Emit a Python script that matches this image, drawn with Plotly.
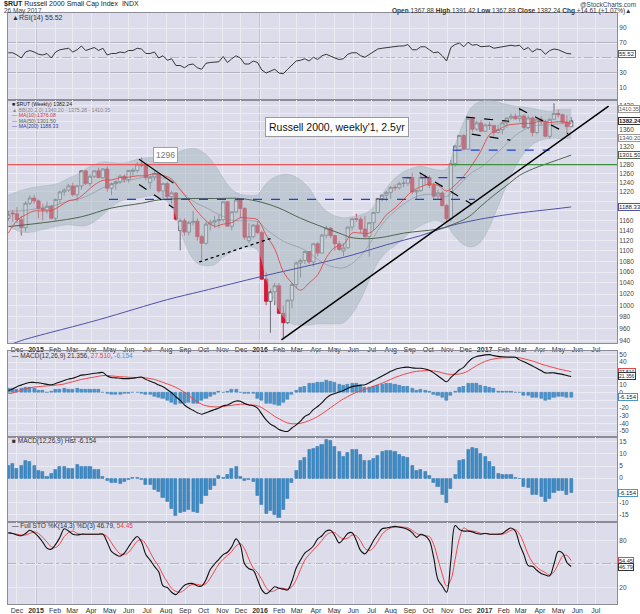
import math
import pandas as pd
import plotly.graph_objects as go

# ---------------------------------------------------------------- data
week_start = "2014-11-17"
n_weeks = 132
weeks = pd.date_range(week_start, periods=n_weeks, freq="7D")

open_px = [1165,1176,1174,1162,1146,1196,1207,1201,1185,1182,
           1190,1165,1204,1220,1224,1233,1214,1233,1266,1238,
           1254,1266,1251,1270,1228,1238,1242,1254,1247,1265,
           1267,1281,1278,1240,1252,1260,1222,1238,1210,1218,
           1140,1160,1137,1156,1159,1128,1115,1153,1157,1160,
           1162,1199,1149,1178,1203,1185,1120,1128,1151,1136,
           1047,1007,1024,1035,986,970,1009,1037,1077,1082,
           1099,1079,1114,1096,1131,1145,1130,1114,1100,1106,
           1147,1164,1163,1143,1128,1156,1177,1206,1213,1219,
           1230,1229,1238,1239,1251,1220,1223,1252,1251,1234,
           1211,1218,1191,1164,1282,1322,1347,1315,1388,1362,
           1377,1357,1372,1371,1354,1361,1377,1389,1393,1387,
           1394,1366,1389,1354,1386,1380,1345,1386,1400,1397,
           1379,1367.88]
high_px = [1180,1182,1188,1170,1200,1213,1214,1204,1195,1200,
           1193,1206,1222,1228,1237,1240,1235,1267,1268,1258,
           1267,1273,1272,1276,1240,1246,1258,1258,1268,1272,
           1285,1296,1280,1256,1266,1262,1240,1242,1222,1220,
           1165,1165,1160,1180,1165,1132,1158,1162,1170,1172,
           1200,1200,1180,1205,1206,1188,1155,1153,1160,1140,
           1060,1030,1040,1040,1000,1010,1040,1080,1085,1100,
           1100,1115,1117,1133,1150,1147,1132,1120,1115,1148,
           1165,1174,1168,1170,1157,1178,1207,1215,1222,1232,
           1236,1242,1248,1254,1262,1225,1263,1258,1256,1240,
           1225,1222,1195,1290,1325,1348,1350,1388,1392,1382,
           1384,1375,1380,1372,1373,1380,1390,1400,1400,1414,
           1398,1395,1392,1390,1393,1385,1388,1425,1410,1400,
           1395,1391.42]
low_px = [1160,1158,1155,1130,1138,1192,1195,1165,1160,1175,
          1162,1160,1195,1212,1220,1210,1200,1225,1235,1232,
          1250,1250,1248,1220,1213,1225,1237,1240,1240,1255,
          1262,1274,1245,1226,1245,1218,1205,1205,1195,1160,
          1101,1130,1130,1150,1120,1083,1112,1140,1145,1145,
          1158,1148,1140,1175,1165,1122,1115,1125,1133,1046,
          1000,953,1000,985,943,968,995,1030,1050,1075,
          1075,1070,1090,1095,1125,1125,1100,1100,1090,1105,
          1140,1158,1135,1125,1089,1140,1175,1200,1200,1205,
          1222,1225,1230,1233,1215,1205,1220,1235,1228,1205,
          1205,1190,1156,1158,1275,1320,1312,1313,1355,1358,
          1355,1355,1360,1345,1352,1350,1365,1385,1385,1380,
          1362,1362,1345,1350,1370,1343,1340,1384,1390,1375,
          1348,1367.88]
close_px = [1172,1174,1162,1146,1196,1207,1201,1185,1182,1190,
            1165,1204,1220,1224,1233,1214,1233,1266,1238,1254,
            1266,1251,1270,1228,1238,1242,1254,1247,1267,1267,
            1281,1278,1251,1252,1260,1222,1238,1210,1218,1163,
            1160,1137,1156,1159,1128,1115,1153,1157,1160,1162,
            1199,1149,1178,1203,1185,1127,1128,1151,1136,1047,
            1007,1024,1035,986,970,1009,1037,1077,1082,1099,
            1079,1114,1096,1131,1145,1130,1114,1103,1106,1147,
            1164,1163,1143,1128,1156,1177,1206,1213,1219,1230,
            1229,1238,1239,1251,1220,1223,1252,1251,1234,1211,
            1218,1191,1164,1282,1322,1347,1315,1388,1362,1377,
            1357,1372,1371,1354,1361,1377,1389,1393,1387,1394,
            1366,1389,1354,1386,1380,1345,1386,1400,1397,1379,
            1368,1382.24]

rsi14 = [57,57,54,50,58,60,58,55,54,56,
         50,58,61,62,63,58,61,66,60,62,
         64,60,63,54,56,56,58,57,60,60,
         63,62,56,56,58,50,53,47,49,40,
         40,37,41,42,37,35,43,44,45,45,
         52,44,49,53,50,42,42,46,44,34,
         30,33,35,30,29,35,40,46,47,49,
         46,51,48,53,55,52,50,48,49,55,
         57,57,53,51,55,58,62,63,64,65,
         65,66,66,68,61,61,65,65,61,57,
         58,53,46,64,68,70,65,71,67,68,
         65,66,66,63,64,65,67,67,66,67,
         61,64,58,62,61,55,60,62,61,58,
         56,55.52]

macd_line = [3,5,8,10,12,13.5,13.5,13,12,11,
             10.5,12,14,16,18,19,21,23,23.5,24.5,
             25.5,26,26.5,22,20,19.5,19,18.5,18.5,19,
             20,20.5,17.5,15,13,10,7.8,4,0,-5.2,
             -10,-16,-20,-23,-26,-28,-26,-24,-22,-20,
             -17,-16,-13,-10.8,-11,-14,-16,-17,-20,-28,
             -35.5,-41,-44,-48,-50,-50.5,-46,-42,-37,-31,
             -28,-22,-18,-13,-7,-3,-1,1,3,6,
             8,9,10,10.5,13,16,19,22,25,28,
             30.5,32,33,33.5,32.5,32,32,31,29.5,26,
             22,18,14.3,20,25,30,33.5,40,45,47.5,
             48.5,49.5,49.8,48.5,47.5,47,46.8,46.8,46.5,43,
             40.5,38,35,32,29,26,26,26,25,24,
             22.5,21.356]
macd_signal = [-1,-0.3,1.5,3.5,5,6.5,7.5,8,8.5,9,
               9.5,10,10.5,11.5,13,14.5,16,17.5,18.5,19.5,
               20.5,21.5,22.5,22.5,22,21.5,21,20.8,20.3,20,
               19.8,19.8,19.5,18.5,17.5,15.5,13.5,11.5,9.5,7,
               4,0.5,-3.5,-8,-12,-15,-17,-18,-18.5,-18.5,
               -18,-17,-16.5,-15.5,-15,-15,-15.5,-16,-17,-19.5,
               -23,-27,-31,-34,-37,-39.5,-40.5,-40.5,-40,-38.5,
               -36.5,-34,-31,-27.5,-23.5,-19.5,-15.5,-11.5,-8,-5,
               -2,0.5,2.5,4.5,6.5,8.5,10.5,12.5,15,17.5,
               20,22,24,25.5,27,28,28.5,28.8,29,28.5,
               27.5,26,24.5,24,24,24.5,26,28.5,32,35.5,
               38.5,41,43,44.2,45.2,45.6,45.8,46,46.2,45.8,
               44.5,43,41.5,39.5,37.5,35.8,34.3,32.7,31.2,30,
               28.8,27.51]
macd_hist = [5.3,6.0,4.0,5.3,7.4,6.7,5.3,3.3,2.6,0.8,
             1.9,3.6,4.6,4.9,4.0,4.0,5.7,4.6,4.6,4.6,
             3.6,3.6,0.5,-1.1,-1.9,-1.9,-2.2,-1.5,-0.8,0.3,
             0.3,-0.8,-2.5,-2.5,-4.9,-5.6,-7.9,-9.7,-12.4,-15.4,
             -14.2,-13.8,-13.1,-13.8,-14.2,-10.4,-7.0,-4.9,-2.9,1.2,
             0.4,1.6,4.0,4.6,0.8,-1.1,-0.8,-1.5,-7.0,-10.7,
             -14.5,-13.4,-15.2,-16.1,-13.1,-8.3,-1.9,3.0,7.4,8.5,
             11.7,12.0,13.0,13.9,15.8,15.3,13.1,10.8,9.0,10.4,
             11.7,11.7,9.8,7.4,7.1,8.0,9.4,10.8,11.5,11.5,
             10.8,9.8,8.7,8.5,5.3,3.3,3.6,2.6,1.2,-1.9,
             -3.6,-6.6,-10.1,-4.2,1.6,7.1,7.7,11.7,12.6,12.3,
             10.1,8.7,7.0,4.9,1.9,1.6,1.6,1.6,0.3,-0.3,
             -3.3,-3.8,-6.6,-6.6,-7.7,-9.7,-8.3,-6.0,-5.2,-5.2,
             -6.6,-6.154]

sto_k = [90,89,87,86,89,93,90,85,78,70,
         69,75,84,95,92,88,87,88,88,88,
         88,88,88,78,66,62,60,64,72,80,
         85,78,62,55,47,40,22,20,14,11,
         17,23,25,25,22,22,30,43,50,56,
         62,65,72,82,74,50,44,42,30,17,
         12,16,21,19,18,17,28,45,55,64,
         68,73,82,86,92,93,86,77,82,89,
         90,80,67,63,70,80,88,95,96,97,
         98,97,96,94,90,84,88,86,80,58,
         30,22,14,55,99,94,92,92,91,89,
         88,89,88,88,88,89,93,96,92,75,
         62,48,47,42,38,36,35,50,66,64,
         52,46.79]
sto_d = [89,89,88,87,87,89,91,89,84,78,
         72,71,76,85,90,92,89,88,88,88,
         88,88,88,85,77,69,63,62,65,72,
         79,81,75,65,55,47,36,27,19,15,
         14,17,22,24,24,23,25,32,41,50,
         56,61,66,73,76,69,56,45,39,30,
         20,15,16,19,19,18,21,30,43,55,
         62,68,74,80,87,90,90,85,82,83,
         87,86,79,70,67,71,79,88,93,96,
         97,97,97,96,93,89,87,86,85,75,
         56,37,22,30,56,83,96,93,92,91,
         89,89,88,88,88,88,90,93,94,88,
         76,62,52,46,42,39,36,40,50,60,
         61,54.45]

# bands / averages read every second week (plus the last week)
band_weeks = list(range(0, 131, 2)) + [131]
bb_upper = [1213,1220,1226,1230,1233,1235,1240,1250,1258,1270,
            1280,1286,1285,1283,1286,1292,1295,1296,1296,1300,
            1310,1316,1315,1303,1280,1250,1225,1215,1212,1214,
            1238,1252,1258,1256,1246,1228,1200,1180,1170,1166,
            1168,1172,1180,1202,1228,1250,1264,1272,1276,1272,
            1268,1270,1325,1380,1418,1430,1433,1428,1422,1418,
            1416,1412,1408,1405,1410,1410,1410.35]
bb_lower = [1150,1140,1136,1138,1142,1146,1150,1152,1150,1150,
            1158,1172,1188,1200,1205,1207,1210,1212,1205,1190,
            1140,1098,1076,1072,1074,1088,1098,1106,1108,1102,
            1048,1008,980,968,966,966,968,968,968,970,
            985,1010,1045,1078,1098,1110,1125,1140,1150,1158,
            1160,1150,1128,1112,1108,1118,1148,1190,1235,1275,
            1305,1326,1336,1340,1340,1340,1340.20]
bb_mid = [1180,1180,1181,1184,1187,1190,1195,1201,1204,1210,
          1219,1229,1236,1241,1245,1249,1252,1254,1250,1245,
          1225,1207,1195,1187,1177,1169,1161,1160,1160,1158,
          1143,1130,1119,1112,1106,1097,1084,1074,1069,1068,
          1076,1091,1112,1140,1163,1180,1194,1206,1213,1215,
          1214,1210,1226,1246,1263,1274,1290,1309,1328,1347,
          1360,1369,1372,1372,1375,1375,1375.28]
ma10 = [1135,1160,1172,1180,1180,1181,1190,1201,1205,1219,
        1235,1245,1246,1251,1252,1255,1255,1260,1256,1248,
        1225,1202,1179,1160,1149,1153,1156,1166,1165,1162,
        1131,1104,1061,1040,1027,1040,1055,1087,1107,1112,
        1135,1135,1135,1149,1172,1186,1204,1222,1231,1237,
        1234,1222,1235,1254,1280,1311,1349,1360,1371,1374,
        1376,1376,1382,1378,1380,1378,1376.08]

ma50_weeks = [0,10,17,24,31,35,42,48,54,59,63,68,72,77,80,84,88,92,96,100,
              103,107,110,113,116,119,122,125,128,131]
ma50 = [1148,1158,1168,1186,1196,1203,1206,1206,1206,1198,1186,1165,1151,1135,
        1126,1124,1128,1135,1139,1143,1151,1167,1190,1213,1234,1256,1270,1281,
        1291,1301.5]
ma200_weeks = [0,3,21,37,45,59,72,80,88,96,103,111,119,127,131]
ma200 = [932,940,975,1010,1025,1052,1076,1092,1112,1130,1150,1165,1176,1184,1188.33]

# hand-drawn annotations (dates, price levels)
level_line = 1280
level_break = "2016-11-07"
trend_long = (["2016-02-05", "2017-07-22"], [941, 1418])
trend_2015_top = (["2015-06-18", "2015-08-13"], [1292, 1239])
trend_2015_low = (["2015-06-18", "2015-08-13"], [1236, 1186])
trend_2015_rise = (["2015-09-24", "2016-01-20"], [1079, 1125])
trend_2016_fall = (["2016-09-17", "2016-12-11"], [1262, 1194])
flag_top = (["2016-12-02", "2017-02-10"], [1391, 1381])
flag_bottom = (["2016-12-11", "2017-02-12"], [1350, 1336])
trend_2017_fall = (["2017-02-26", "2017-05-17"], [1412, 1351])
support_1204 = (["2015-04-30", "2016-12-16"], [1204, 1204])
support_1251 = (["2016-08-20", "2016-12-11"], [1251, 1251])
support_1313 = (["2016-11-10", "2017-04-17"], [1313, 1313])

month_starts = pd.date_range("2014-12-01", periods=32, freq="MS")
month_labels = ["Dec", "2015", "Feb", "Mar", "Apr", "May", "Jun", "Jul", "Aug", "Sep",
                "Oct", "Nov", "Dec", "2016", "Feb", "Mar", "Apr", "May", "Jun", "Jul",
                "Aug", "Sep", "Oct", "Nov", "Dec", "2017", "Feb", "Mar", "Apr", "May",
                "Jun", "Jul"]
price_ticks = list(range(940, 1421, 20))
price_hidden = [1400, 1380, 1340, 1300, 1200, 1180]

# ---------------------------------------------------------------- style
BG = "#dcdcea"
GRID = "#ebebf4"
FRAME = "#8c8c98"
FONT = "Liberation Sans"
band_dates = weeks[band_weeks]

fig = go.Figure()

# RSI
fig.add_trace(go.Scatter(x=weeks, y=rsi14, mode="lines", line=dict(color="#222", width=0.9),
                         xaxis="x", yaxis="y"))

# Bollinger band
fig.add_trace(go.Scatter(x=band_dates, y=bb_lower, mode="lines", line=dict(color="rgba(150,165,175,0.7)", width=0.5, shape="spline"),
                         xaxis="x2", yaxis="y2"))
fig.add_trace(go.Scatter(x=band_dates, y=bb_upper, mode="lines", fill="tonexty",
                         fillcolor="rgba(170,186,192,0.55)",
                         line=dict(color="rgba(150,165,175,0.7)", width=0.5, shape="spline"),
                         xaxis="x2", yaxis="y2"))
fig.add_trace(go.Scatter(x=band_dates, y=bb_mid, mode="lines", line=dict(color="rgba(130,140,150,0.8)", width=0.7, shape="spline"),
                         xaxis="x2", yaxis="y2"))
fig.add_trace(go.Scatter(x=weeks[ma200_weeks], y=ma200, mode="lines", line=dict(color="#5050a8", width=1, shape="spline"),
                         xaxis="x2", yaxis="y2"))
fig.add_trace(go.Scatter(x=weeks[ma50_weeks], y=ma50, mode="lines", line=dict(color="#4f6650", width=1, shape="spline"),
                         xaxis="x2", yaxis="y2"))
fig.add_trace(go.Scatter(x=band_dates, y=ma10, mode="lines", line=dict(color="#e04848", width=0.9, shape="spline"),
                         xaxis="x2", yaxis="y2"))

# level line: red before the breakout, green after
fig.add_trace(go.Scatter(x=[weeks[0] - pd.Timedelta(days=3), level_break], y=[level_line, level_line], mode="lines",
                         line=dict(color="#e8585a", width=1.2), xaxis="x2", yaxis="y2"))
fig.add_trace(go.Scatter(x=[level_break, "2017-08-05"], y=[level_line, level_line], mode="lines",
                         line=dict(color="#3f8f3f", width=1.2), xaxis="x2", yaxis="y2"))

for seg in [support_1204, support_1251, support_1313]:
    fig.add_trace(go.Scatter(x=seg[0], y=seg[1], mode="lines", line=dict(color="#1f3fe0", width=1.3, dash="dash"),
                             xaxis="x2", yaxis="y2"))

# candles
fig.add_trace(go.Candlestick(x=weeks, open=open_px, high=high_px, low=low_px, close=close_px,
                             increasing=dict(line=dict(color="#505058", width=0.8), fillcolor="#f2f2f8"),
                             decreasing=dict(line=dict(color="#d01030", width=0.8), fillcolor="#e0142e"),
                             whiskerwidth=0, xaxis="x2", yaxis="y2"))

fig.add_trace(go.Scatter(x=trend_long[0], y=trend_long[1], mode="lines", line=dict(color="#000", width=1.5),
                         xaxis="x2", yaxis="y2"))
fig.add_trace(go.Scatter(x=trend_2015_top[0], y=trend_2015_top[1], mode="lines", line=dict(color="#000", width=1.2),
                         xaxis="x2", yaxis="y2"))
for seg in [trend_2015_low, trend_2016_fall, flag_top, flag_bottom, trend_2017_fall]:
    fig.add_trace(go.Scatter(x=seg[0], y=seg[1], mode="lines", line=dict(color="#000", width=1.2, dash="dash"),
                             xaxis="x2", yaxis="y2"))
fig.add_trace(go.Scatter(x=trend_2015_rise[0], y=trend_2015_rise[1], mode="lines",
                         line=dict(color="#000", width=1.3, dash="dot"), xaxis="x2", yaxis="y2"))

# MACD panel
bar_w = 5 * 24 * 3600 * 1000
fig.add_trace(go.Bar(x=weeks, y=macd_hist, width=bar_w, marker=dict(color="#4b95cc", line=dict(color="#2a6ea6", width=0.4)),
                     xaxis="x3", yaxis="y3"))
fig.add_trace(go.Scatter(x=weeks, y=macd_signal, mode="lines", line=dict(color="#f04848", width=1, shape="spline"),
                         xaxis="x3", yaxis="y3"))
fig.add_trace(go.Scatter(x=weeks, y=macd_line, mode="lines", line=dict(color="#111", width=1.1, shape="spline"),
                         xaxis="x3", yaxis="y3"))
# Histogram panel
fig.add_trace(go.Bar(x=weeks, y=macd_hist, width=bar_w, marker=dict(color="#3d8cc6", line=dict(color="#2566a0", width=0.4)),
                     xaxis="x4", yaxis="y4"))
# Stochastics
fig.add_trace(go.Scatter(x=weeks, y=sto_d, mode="lines", line=dict(color="#f04848", width=1, shape="spline"),
                         xaxis="x5", yaxis="y5"))
fig.add_trace(go.Scatter(x=weeks, y=sto_k, mode="lines", line=dict(color="#111", width=1.1, shape="spline"),
                         xaxis="x5", yaxis="y5"))

# ---------------------------------------------------------------- layout
tick_text = ["<b>%s</b>" % m if m.isdigit() else m for m in month_labels]
xbase = dict(type="date", range=["2014-11-16 10:00", "2017-08-04 16:00"], tickmode="array",
             tickvals=month_starts, ticktext=tick_text, showgrid=True, gridcolor=GRID, gridwidth=1,
             ticks="", showline=True, mirror=True, linecolor=FRAME, linewidth=1, zeroline=False,
             tickfont=dict(size=7, color="#333", family=FONT), fixedrange=True)
ybase = dict(side="right", showgrid=True, gridcolor=GRID, gridwidth=1, ticks="", showline=True, mirror=True,
             linecolor=FRAME, linewidth=1, zeroline=False, tickfont=dict(size=6.5, color="#444", family=FONT),
             fixedrange=True, automargin=False)

dom = {"y": [0.8528, 1.0], "y2": [0.4416, 0.8528], "y3": [0.2831, 0.4289], "y4": [0.1393, 0.2831], "y5": [0.0, 0.1393]}

layout = dict(width=640, height=614, margin=dict(l=8, r=23, t=13, b=10), paper_bgcolor="white",
              plot_bgcolor=BG, showlegend=False, bargap=0, boxgap=0.12, boxgroupgap=0.12,
              font=dict(family=FONT, size=8, color="#222"))
for i, ax in enumerate(["", "2", "3", "4", "5"]):
    xa = dict(xbase)
    xa["anchor"] = "y" + ax
    xa["domain"] = [0, 1]
    xa["showticklabels"] = ax in ("2", "5")
    xa["automargin"] = False
    if ax:
        xa["matches"] = "x"
    if ax == "2":
        xa["rangeslider"] = dict(visible=False)
    layout["xaxis" + ax] = xa

y1 = dict(ybase, domain=dom["y"], anchor="x", range=[-6, 110], tickvals=[10, 30, 50, 70, 90],
          ticktext=["10", "30", "", "70", "90"])
y2 = dict(ybase, domain=dom["y2"], anchor="x2", type="log", range=[math.log10(936), math.log10(1433.5)],
          tickvals=price_ticks, ticktext=["" if v in price_hidden else str(v) for v in price_ticks])
y3 = dict(ybase, domain=dom["y3"], anchor="x3", range=[-57.4, 55.2], tickvals=list(range(-50, 51, 10)),
          ticktext=["" if v in (30, 20, -10) else str(v) for v in range(-50, 51, 10)])
y4 = dict(ybase, domain=dom["y4"], anchor="x4", range=[-17.9, 17.1], tickvals=list(range(-15, 16, 5)),
          ticktext=["" if v == -5 else str(v) for v in range(-15, 16, 5)])
y5 = dict(ybase, domain=dom["y5"], anchor="x5", range=[-1, 104], tickvals=[20, 50, 80],
          ticktext=["20", "", "80"])
layout.update(yaxis=y1, yaxis2=y2, yaxis3=y3, yaxis4=y4, yaxis5=y5)

shapes = []
# reference levels
for yref, lv, dash in [("y", 70, "solid"), ("y", 30, "solid"), ("y", 50, "dashdot"),
                       ("y5", 80, "solid"), ("y5", 20, "solid"), ("y5", 50, "dashdot")]:
    shapes.append(dict(type="line", xref="x domain" if yref == "y" else "x5 domain", x0=0, x1=1,
                       yref=yref, y0=lv, y1=lv, line=dict(color="#8e8e9a", width=1.1, dash=dash), layer="below"))
# year separators
for ax in ["", "2", "3", "4", "5"]:
    for yr in ["2015-01-01", "2016-01-01", "2017-01-01"]:
        shapes.append(dict(type="line", xref="x" + ax, x0=yr, x1=yr, yref="y%s domain" % ax, y0=0, y1=1,
                           line=dict(color="#a9a9b8", width=1), layer="below"))
layout["shapes"] = shapes

ann = []
def txt(x, y, s, size=7, color="#333", xanchor="left", **kw):
    ann.append(dict(xref="paper", yref="paper", x=x, y=y, text=s, showarrow=False, xanchor=xanchor,
                    yanchor="middle", font=dict(size=size, color=color, family=FONT), **kw))

def px_x(p):
    return (p - 8) / 609.0

def px_y(p):
    return (604 - p) / 591.0

# header
txt(px_x(2), px_y(4.5), "<b>$RUT</b> Russell 2000 Small Cap Index  INDX", size=7, color="#222")
txt(px_x(2), px_y(11.5), "26 May 2017", size=6.5, color="#444")
txt(px_x(638), px_y(4.5), "@StockCharts.com", size=6.5, color="#444", xanchor="right")
txt(px_x(634), px_y(11.5), "<b>Open</b> 1367.88 <b>High</b> 1391.42 <b>Low</b> 1367.88 <b>Close</b> 1382.24 "
    "<b>Chg</b> +14.61 (+1.07%)\u25b2", size=6.5, color="#333", xanchor="right")

# panel captions
txt(px_x(10), px_y(18), "\u25b2RSI(14) 55.52", size=7, color="#333")
legend_rows = [("\u25a0 $RUT (Weekly) 1382.24", "#222"),
               ("\u25b2 BB(20,2.0) 1340.20 - 1375.28 - 1410.35", "#888"),
               ("\u2014 MA(10) 1376.08", "#d04040"),
               ("\u2014 MA(50) 1301.50", "#4f6650"),
               ("\u2014 MA(200) 1188.33", "#4040a0")]
for k, (s, c) in enumerate(legend_rows):
    txt(px_x(10), px_y(104.5 + 5.4 * k), s, size=5.2, color=c)
txt(px_x(10), px_y(355.5), "\u2014 MACD(12,26,9) 21.356, <span style='color:#e84040'>27.510</span>, "
    "<span style='color:#4b95cc'>-6.154</span>", size=6.5, color="#333")
txt(px_x(10), px_y(440.5), "\u25a0 MACD(12,26,9) Hist -6.154", size=6.5, color="#333")
txt(px_x(10), px_y(525.5), "\u2014 Full STO %K(14,3) %D(3) 46.79, <span style='color:#e84040'>54.45</span>",
    size=6.5, color="#333")

# chart notes
ann.append(dict(xref="paper", yref="paper", x=px_x(337), y=px_y(126.5), text="Russell 2000, weekly'1, 2.5yr",
                showarrow=False, xanchor="center", yanchor="middle", bgcolor="white", bordercolor="#9a9aa6",
                borderwidth=1, borderpad=3, font=dict(size=10.5, color="#111", family=FONT)))
ann.append(dict(xref="paper", yref="paper", x=px_x(165), y=px_y(155), text="1296",
                showarrow=False, xanchor="center", yanchor="middle", bgcolor="white", bordercolor="#a0a0aa",
                borderwidth=1, borderpad=2, font=dict(size=8.5, color="#777", family=FONT)))

# value boxes on the right axis
def vbox(yref, yval, s, border="#666", color="#222", size=6):
    ann.append(dict(xref="paper", yref=yref, x=1.0, y=yval, text=s, showarrow=False, xanchor="left",
                    yanchor="middle", xshift=1, bgcolor="white", bordercolor=border, borderwidth=1, borderpad=0,
                    font=dict(size=size, color=color, family=FONT)))

vbox("y", 55.52, "55.52")
vbox("y2", math.log10(1410.35), "1410.35", "#999", "#555", 5.5)
vbox("y2", math.log10(1382.24), "<b>1382.24</b>", "#333")
vbox("y2", math.log10(1340.20), "1340.20", "#999", "#555")
vbox("y2", math.log10(1301.50), "1301.50", "#4f6650")
vbox("y2", math.log10(1188.33), "1188.33", "#5050a8")
vbox("y3", 27.51, "27.510", "#e04848", size=5)
vbox("y3", 21.356, "21.356", "#333", size=5)
vbox("y3", -6.154, "-6.154", "#4b95cc")
vbox("y4", -6.154, "-6.154", "#4b95cc")
vbox("y5", 54.45, "54.45", "#e04848", size=5.5)
vbox("y5", 46.79, "46.79", "#333", size=5.5)
layout["annotations"] = ann

fig.update_layout(layout)
fig.write_html("out.html", config={"displayModeBar": False},
               post_script="document.body.style.margin='0';document.body.style.overflow='hidden';")
